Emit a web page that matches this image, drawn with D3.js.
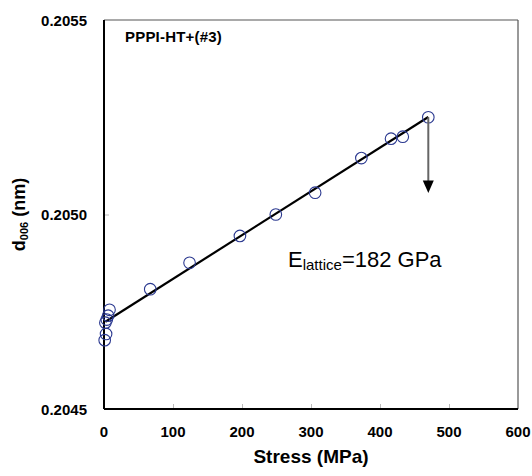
<!DOCTYPE html>
<html>
<head>
<meta charset="utf-8">
<script src="https://cdn.jsdelivr.net/npm/d3@7"></script>
<style>
  html, body { margin: 0; padding: 0; background: #fff; }
  svg { display: block; font-family: Arial, "Liberation Sans", sans-serif; }
</style>
</head>
<body>
<svg id="chart" width="532" height="476"></svg>
<script>
// Lattice spacing d(006) versus applied stress
const stress = [1, 3, 2, 4, 6, 8, 67, 124, 197, 249, 306, 373, 416, 433, 470];
const d006 = [0.204677, 0.204693, 0.204722, 0.204730, 0.204740, 0.204755,
              0.204808, 0.204876, 0.204945, 0.205000, 0.205056, 0.205145,
              0.205195, 0.205200, 0.205250];

const xTicks = [0, 100, 200, 300, 400, 500, 600];
const yTicks = [0.2045, 0.2050, 0.2055];

// Linear fit: d = d0 * (1 + sigma / E)
const fitIntercept = 0.204722;   // nm
const modulusGPa = 182;
const fitRange = [2, 470];        // MPa
const arrowFrom = 0.205250;       // nm, at the last point
const arrowTo = 0.205055;         // nm
const arrowStress = 470;

const svg = d3.select("#chart");
const m = { left: 104, right: 518, top: 20, bottom: 409 };

const x = d3.scaleLinear().domain([0, 600]).range([m.left, m.right]);
const y = d3.scaleLinear().domain([0.2045, 0.2055]).range([m.bottom, m.top]);

// inner tick marks
const xAxis = svg.append("g")
  .attr("transform", `translate(0,${m.bottom})`)
  .call(d3.axisTop(x).tickValues(xTicks.slice(1, -1)).tickSize(5).tickFormat(""));
xAxis.select(".domain").remove();
xAxis.selectAll("line").attr("stroke", "#bbb").attr("stroke-width", 1);

const yAxis = svg.append("g")
  .attr("transform", `translate(${m.left},0)`)
  .call(d3.axisRight(y).tickValues(yTicks.slice(1, -1)).tickSize(5).tickFormat(""));
yAxis.select(".domain").remove();
yAxis.selectAll("line").attr("stroke", "#bbb").attr("stroke-width", 1);

// frame
svg.append("line").attr("x1", m.left).attr("x2", m.right).attr("y1", m.top).attr("y2", m.top)
  .attr("stroke", "#555").attr("stroke-width", 1.2);
svg.append("line").attr("x1", m.right).attr("x2", m.right).attr("y1", m.top).attr("y2", m.bottom)
  .attr("stroke", "#555").attr("stroke-width", 1.2);
svg.append("line").attr("x1", m.left).attr("x2", m.right).attr("y1", m.bottom).attr("y2", m.bottom)
  .attr("stroke", "#000").attr("stroke-width", 2);
svg.append("line").attr("x1", m.left).attr("x2", m.left).attr("y1", m.top).attr("y2", m.bottom)
  .attr("stroke", "#000").attr("stroke-width", 2);

// tick labels
svg.append("g").selectAll("text").data(xTicks).join("text")
  .attr("x", d => x(d)).attr("y", 437)
  .attr("text-anchor", "middle")
  .attr("font-size", 15).attr("font-weight", "bold")
  .text(d => d);

svg.append("g").selectAll("text").data(yTicks).join("text")
  .attr("x", 87).attr("y", d => y(d) + 5.5)
  .attr("text-anchor", "end")
  .attr("font-size", 15).attr("font-weight", "bold")
  .text(d => d.toFixed(4));

// axis titles
svg.append("text")
  .attr("x", (m.left + m.right) / 2).attr("y", 463)
  .attr("text-anchor", "middle")
  .attr("font-size", 19).attr("font-weight", "bold")
  .text("Stress (MPa)");

const yt = svg.append("text")
  .attr("transform", `translate(25,${y(0.2050)}) rotate(-90)`)
  .attr("text-anchor", "middle")
  .attr("font-size", 18).attr("font-weight", "bold");
yt.append("tspan").text("d");
yt.append("tspan").attr("font-size", 11).attr("dy", 3).text("006");
yt.append("tspan").attr("dy", -3).text(" (nm)");

// sample label
svg.append("text")
  .attr("x", 125).attr("y", 41.5)
  .attr("font-size", 15).attr("font-weight", "bold")
  .attr("letter-spacing", 0.2)
  .text("PPPI-HT+(#3)");

// fit line
const fitY = s => fitIntercept * (1 + s / (modulusGPa * 1000));
svg.append("line")
  .attr("x1", x(fitRange[0])).attr("y1", y(fitY(fitRange[0])))
  .attr("x2", x(fitRange[1])).attr("y2", y(fitY(fitRange[1])))
  .attr("stroke", "#000").attr("stroke-width", 2.2);

// data points
svg.append("g").selectAll("circle").data(stress).join("circle")
  .attr("cx", d => x(d)).attr("cy", (d, i) => y(d006[i]))
  .attr("r", 5.8)
  .attr("fill", "none").attr("stroke", "#2b3990").attr("stroke-width", 1.1);

// arrow
const ax = x(arrowStress);
const tipY = y(arrowTo);
svg.append("line")
  .attr("x1", ax).attr("x2", ax).attr("y1", y(arrowFrom)).attr("y2", tipY - 11)
  .attr("stroke", "#666").attr("stroke-width", 2);
svg.append("path")
  .attr("d", `M${ax - 5.5},${tipY - 12.5} L${ax + 5.5},${tipY - 12.5} L${ax},${tipY} Z`)
  .attr("fill", "#000");

// modulus label
const el = svg.append("text")
  .attr("x", 288).attr("y", 267)
  .attr("font-size", 22);
el.append("tspan").text("E");
el.append("tspan").attr("font-size", 15).attr("dy", 3).text("lattice");
el.append("tspan").attr("dy", -3).text(`=${modulusGPa} GPa`);
</script>
</body>
</html>
